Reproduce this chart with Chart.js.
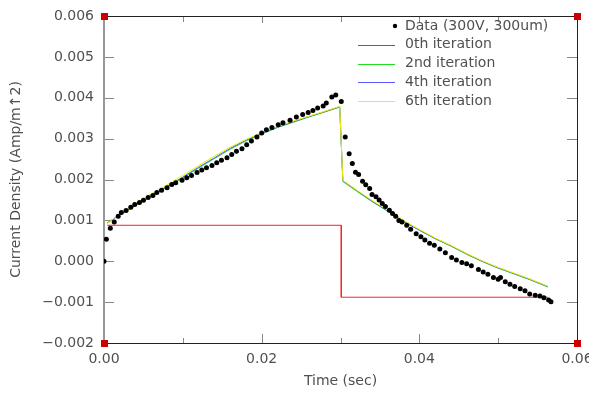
<!DOCTYPE html>
<html>
<head>
<meta charset="utf-8">
<script src="https://cdn.jsdelivr.net/npm/chart.js@4.4.1/dist/chart.umd.min.js"></script>
<style>
    html, body { margin: 0; padding: 0; background: #ffffff; }
    #wrap { width: 589px; height: 393px; }
</style>
</head>
<body>
<div id="wrap"><canvas id="currentChart" width="589" height="393"></canvas></div>
<script>
// measured points (time in sec, current density in Amp/m^2)
const dataTime = [
    0, 0.0003, 0.0008, 0.0013, 0.0018, 0.0022, 0.0028, 0.0034, 0.0039, 0.0045,
    0.0050, 0.0056, 0.0062, 0.0067, 0.0073, 0.0080, 0.0086, 0.0091, 0.0099, 0.0105,
    0.0111, 0.0118, 0.0124, 0.0130, 0.0137, 0.0143, 0.0149, 0.0156, 0.0162, 0.0168,
    0.0175, 0.0181, 0.0187, 0.0194, 0.0200, 0.0206, 0.0213, 0.0221, 0.0227, 0.0236,
    0.0244, 0.0252, 0.0259, 0.0265, 0.0271, 0.0278, 0.0282, 0.0289, 0.0294, 0.0301,
    0.0306, 0.0311, 0.0315, 0.0319, 0.0323, 0.0328, 0.0332, 0.0337, 0.0340, 0.0345,
    0.0349, 0.0353, 0.0357, 0.0362, 0.0366, 0.0370, 0.0374, 0.0378, 0.0384, 0.0389,
    0.0396, 0.0402, 0.0407, 0.0413, 0.0419, 0.0426, 0.0433, 0.0441, 0.0447, 0.0454,
    0.0460, 0.0466, 0.0475, 0.0481, 0.0487, 0.0494, 0.0500, 0.0503, 0.0509, 0.0515,
    0.0521, 0.0528, 0.0534, 0.0540, 0.0547, 0.0553, 0.0558, 0.0564, 0.0567
];
const dataValue = [
    0, 0.00054, 0.00081, 0.00096, 0.00110, 0.00119, 0.00124, 0.00132, 0.00139, 0.00144,
    0.00149, 0.00156, 0.00161, 0.00168, 0.00174, 0.00180, 0.00188, 0.00192, 0.00198, 0.00204,
    0.00210, 0.00217, 0.00223, 0.00229, 0.00234, 0.00241, 0.00247, 0.00253, 0.00261, 0.00269,
    0.00275, 0.00285, 0.00294, 0.00304, 0.00314, 0.00322, 0.00327, 0.00334, 0.00339, 0.00345,
    0.00353, 0.00359, 0.00364, 0.00369, 0.00375, 0.00380, 0.00387, 0.00402, 0.00407, 0.00391,
    0.00304, 0.00263, 0.00239, 0.00218, 0.00212, 0.00196, 0.00187, 0.00178, 0.00163, 0.00158,
    0.00150, 0.00141, 0.00134, 0.00125, 0.00117, 0.00110, 0.00100, 0.00096, 0.00088, 0.00078,
    0.00067, 0.00060, 0.00052, 0.00044, 0.00039, 0.00030, 0.00021, 0.00009, 0.00003, -0.00003,
    -0.00006, -0.00011, -0.00020, -0.00026, -0.00032, -0.00040, -0.00044, -0.00040, -0.00050, -0.00056,
    -0.00062, -0.00067, -0.00072, -0.00080, -0.00083, -0.00085, -0.00089, -0.00095, -0.00099
];

// 0th iteration (step)
const iter0Time = [0.0004, 0.0301, 0.0301, 0.0563];
const iter0Value = [0.00088, 0.00088, -0.00088, -0.00088];

// later iterations share the same time grid
const iterTime = [
    0.0004, 0.002, 0.004, 0.006, 0.008, 0.010, 0.012, 0.014, 0.016, 0.018,
    0.020, 0.022, 0.024, 0.026, 0.028, 0.0299, 0.0303, 0.032, 0.034, 0.036,
    0.038, 0.040, 0.042, 0.044, 0.046, 0.048, 0.050, 0.052, 0.054, 0.0563
];
const iter2Value = [
    0.00094, 0.00113, 0.00136, 0.00159, 0.00181, 0.00204, 0.00228, 0.00251, 0.00274, 0.00294,
    0.00311, 0.00327, 0.00340, 0.00353, 0.00365, 0.00377, 0.00195, 0.00172, 0.00146, 0.00122,
    0.00097, 0.00076, 0.00055, 0.00037, 0.00017, -0.00001, -0.00017, -0.00031, -0.00045, -0.00063
];
const iter4Value = [
    0.00093, 0.00114, 0.00138, 0.00161, 0.00183, 0.00206, 0.00230, 0.00253, 0.00276, 0.00296,
    0.00313, 0.00328, 0.00341, 0.00354, 0.00366, 0.00378, 0.00197, 0.00174, 0.00147, 0.00123,
    0.00098, 0.00076, 0.00056, 0.00038, 0.00018, 0.00000, -0.00016, -0.00030, -0.00044, -0.00062
];
const iter6Value = [
    0.00092, 0.00116, 0.00141, 0.00165, 0.00187, 0.00210, 0.00234, 0.00257, 0.00279, 0.00298,
    0.00315, 0.00330, 0.00343, 0.00355, 0.00367, 0.00379, 0.00198, 0.00175, 0.00149, 0.00125,
    0.00100, 0.00078, 0.00057, 0.00039, 0.00019, 0.00001, -0.00015, -0.00029, -0.00043, -0.00061
];

const xTicks = [0, 0.02, 0.04, 0.06];
const yTicks = [-0.002, -0.001, 0, 0.001, 0.002, 0.003, 0.004, 0.005, 0.006];

const FONT = "'DejaVu Sans', sans-serif";
const TEXT_COLOR = "#505050";

function toPoints(xs, ys) {
    return xs.map((x, i) => ({ x: x, y: ys[i] }));
}

// frame, inward ticks, corner markers and the legend
const framePlugin = {
    id: "frame",
    beforeDatasetsDraw(chart) {
        const ctx = chart.ctx;
        const area = chart.chartArea;
        const xs = chart.scales.x;
        const ys = chart.scales.y;
        ctx.save();

        // ticks
        ctx.strokeStyle = "#888888";
        ctx.lineWidth = 1;
        ctx.beginPath();
        ys.ticks.forEach((t) => {
            const py = Math.round(ys.getPixelForValue(t.value)) + 0.5;
            ctx.moveTo(area.left, py);
            ctx.lineTo(area.left + 10, py);
            ctx.moveTo(area.right, py);
            ctx.lineTo(area.right - 10, py);
        });
        xs.ticks.forEach((t, i) => {
            const px = Math.round(xs.getPixelForValue(t.value)) + 0.5;
            ctx.moveTo(px, area.bottom);
            ctx.lineTo(px, area.bottom - 9);
            ctx.moveTo(px, area.top);
            ctx.lineTo(px, area.top + 7);
            if (i < xs.ticks.length - 1) {
                const mid = (t.value + xs.ticks[i + 1].value) / 2;
                const pm = Math.round(xs.getPixelForValue(mid)) + 0.5;
                ctx.moveTo(pm, area.bottom);
                ctx.lineTo(pm, area.bottom - 5);
                ctx.moveTo(pm, area.top);
                ctx.lineTo(pm, area.top + 6);
            }
        });
        ctx.stroke();

        // box
        ctx.strokeStyle = "#222222";
        ctx.beginPath();
        ctx.moveTo(area.left, Math.round(area.top) + 0.5);
        ctx.lineTo(area.right + 0.5, Math.round(area.top) + 0.5);
        ctx.lineTo(area.right + 0.5, area.bottom + 0.5);
        ctx.lineTo(area.left, area.bottom + 0.5);
        ctx.stroke();
        ctx.strokeStyle = "#999999";
        ctx.lineWidth = 2;
        ctx.beginPath();
        ctx.moveTo(area.left, area.top);
        ctx.lineTo(area.left, area.bottom);
        ctx.stroke();

        // corner markers
        ctx.fillStyle = "#cc0000";
        [[area.left, area.top], [area.right, area.top], [area.left, area.bottom], [area.right, area.bottom]].forEach((c) => {
            ctx.fillRect(Math.round(c[0]) - 3, Math.round(c[1]) - 3, 7, 7);
        });
        ctx.restore();
    },
    afterDraw(chart) {
        const ctx = chart.ctx;
        const area = chart.chartArea;
        const lineStart = 358;
        const lineEnd = 395;
        const textX = 405;
        ctx.save();
        ctx.font = "14px " + FONT;
        ctx.textBaseline = "middle";
        ctx.textAlign = "left";
        chart.data.datasets.forEach((ds, i) => {
            const y = area.top + 10 + i * 18.8;
            if (ds.showLine) {
                ctx.strokeStyle = ds.borderColor;
                ctx.lineWidth = 1.2;
                ctx.beginPath();
                ctx.moveTo(lineStart, Math.round(y) + 0.5);
                ctx.lineTo(lineEnd, Math.round(y) + 0.5);
                ctx.stroke();
            } else {
                ctx.fillStyle = "#000000";
                ctx.beginPath();
                ctx.arc(lineEnd, y, 2.2, 0, Math.PI * 2);
                ctx.fill();
            }
            ctx.fillStyle = TEXT_COLOR;
            ctx.fillText(ds.label, textX, y);
        });
        ctx.restore();
    },
};

const ctx = document.getElementById("currentChart").getContext("2d");

new Chart(ctx, {
    type: "scatter",
    data: {
        datasets: [
            {
                label: "Data (300V, 300um)",
                data: toPoints(dataTime, dataValue),
                showLine: false,
                pointRadius: 2.5,
                pointBackgroundColor: "#000000",
                pointBorderWidth: 0,
                order: 0,
            },
            {
                label: "0th iteration",
                data: toPoints(iter0Time, iter0Value),
                showLine: true,
                borderColor: "#ff2020",
                borderWidth: 1,
                pointRadius: 0,
                order: 1,
            },
            {
                label: "2nd iteration",
                data: toPoints(iterTime, iter2Value),
                showLine: true,
                borderColor: "#22dd22",
                borderWidth: 1,
                pointRadius: 0,
                order: 4,
            },
            {
                label: "4th iteration",
                data: toPoints(iterTime, iter4Value),
                showLine: true,
                borderColor: "#5a5aff",
                borderWidth: 1,
                pointRadius: 0,
                order: 3,
            },
            {
                label: "6th iteration",
                data: toPoints(iterTime, iter6Value),
                showLine: true,
                borderColor: "#eeee00",
                borderWidth: 1,
                pointRadius: 0,
                order: 2,
            },
        ],
    },
    options: {
        responsive: false,
        animation: false,
        layout: {
            padding: { left: 0, right: 12, top: 16, bottom: 0 },
        },
        plugins: {
            legend: { display: false },
            tooltip: { enabled: false },
        },
        scales: {
            x: {
                type: "linear",
                min: 0,
                max: 0.06,
                afterBuildTicks: (scale) => {
                    scale.ticks = xTicks.map((v) => ({ value: v }));
                },
                afterFit: (scale) => {
                    scale.height = 50;
                    scale.paddingLeft = 0;
                    scale.paddingRight = 0;
                },
                grid: { display: false, drawTicks: false },
                border: { display: false },
                ticks: {
                    color: TEXT_COLOR,
                    font: { family: FONT, size: 14 },
                    padding: 8,
                    maxRotation: 0,
                    autoSkip: false,
                    callback: (v) => Number(v).toFixed(2),
                },
                title: {
                    display: true,
                    text: "Time (sec)",
                    color: TEXT_COLOR,
                    font: { family: FONT, size: 14 },
                    padding: { top: 0, bottom: 3 },
                },
            },
            y: {
                type: "linear",
                min: -0.002,
                max: 0.006,
                afterBuildTicks: (scale) => {
                    scale.ticks = yTicks.map((v) => ({ value: v }));
                },
                afterFit: (scale) => {
                    scale.width = 104;
                    scale.paddingTop = 0;
                    scale.paddingBottom = 0;
                },
                grid: { display: false, drawTicks: false },
                border: { display: false },
                ticks: {
                    color: TEXT_COLOR,
                    font: { family: FONT, size: 14 },
                    padding: 10,
                    autoSkip: false,
                    callback: (v) => Number(v).toFixed(3).replace("-", "\u2212"),
                },
                title: {
                    display: true,
                    text: "Current Density (Amp/m\u21912)",
                    color: TEXT_COLOR,
                    font: { family: FONT, size: 14 },
                    padding: { top: 8, bottom: 0 },
                },
            },
        },
    },
    plugins: [framePlugin],
});
</script>
</body>
</html>
